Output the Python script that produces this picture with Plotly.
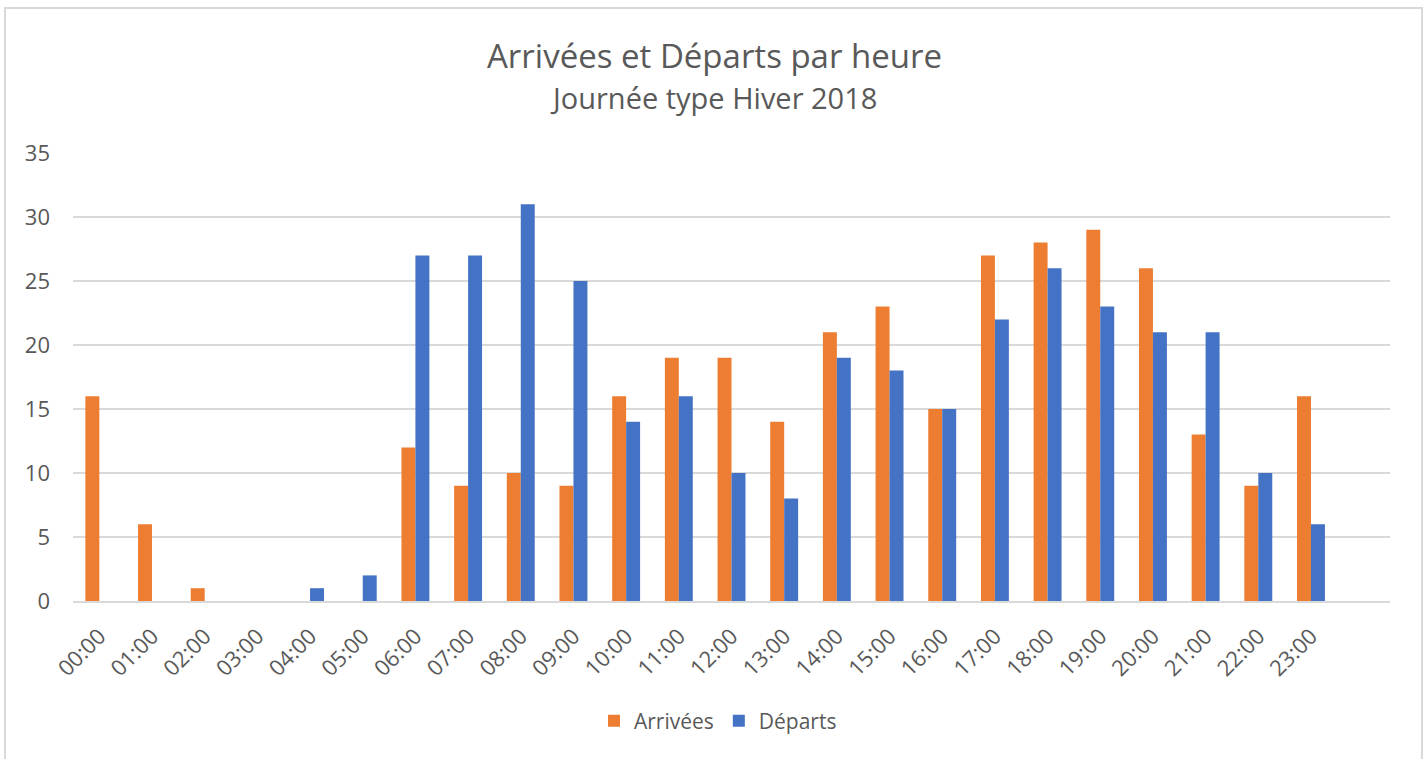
import plotly.graph_objects as go

hours = ["00:00", "01:00", "02:00", "03:00", "04:00", "05:00", "06:00", "07:00",
         "08:00", "09:00", "10:00", "11:00", "12:00", "13:00", "14:00", "15:00",
         "16:00", "17:00", "18:00", "19:00", "20:00", "21:00", "22:00", "23:00"]
arrivees = [16, 6, 1, 0, 0, 0, 12, 9, 10, 9, 16, 19, 19, 14, 21, 23, 15, 27, 28, 29, 26, 13, 9, 16]
departs = [0, 0, 0, 0, 1, 2, 27, 27, 31, 25, 14, 16, 10, 8, 19, 18, 15, 22, 26, 23, 21, 21, 10, 6]
y_ticks = [0, 5, 10, 15, 20, 25, 30, 35]

W, H = 1427, 759
L, R, T, B = 73, 1390, 153, 601
pw, ph = R - L, B - T

def px(x):
    return (x - L) / pw

def py(y):
    return (B - y) / ph

font = "Open Sans, Noto Sans, sans-serif"
grey = "#595959"

fig = go.Figure()
fig.add_trace(go.Bar(x=hours, y=arrivees, name="Arrivées",
                     marker=dict(color="#ED7D31", line=dict(width=0))))
fig.add_trace(go.Bar(x=hours, y=departs, name="Départs",
                     marker=dict(color="#4472C4", line=dict(width=0))))

fig.update_layout(
    width=W, height=H,
    margin=dict(l=L, r=W - R, t=T, b=H - B, pad=0),
    paper_bgcolor="white", plot_bgcolor="white",
    barmode="group", bargap=0.47, bargroupgap=0,
    font=dict(family=font, color=grey, size=22),
    showlegend=True,
    legend=dict(orientation="h", x=px(718), xanchor="center", y=py(721), yanchor="middle",
                font=dict(size=21, color=grey), traceorder="normal"),
    xaxis=dict(type="category", range=[-0.5, 24.5], tickangle=-45,
               showgrid=False, showline=True, linecolor="#D9D9D9", linewidth=1.5,
               ticks="", tickfont=dict(size=22, color=grey), ticklabelstandoff=12,
               fixedrange=True),
    yaxis=dict(range=[0, 35], tickvals=y_ticks, showgrid=True, gridcolor="#D9D9D9",
               gridwidth=1.5, zeroline=False, showline=False, ticks="",
               tickfont=dict(size=22, color=grey), ticklabelstandoff=22),
    annotations=[
        dict(text="Arrivées et Départs par heure", x=px(714), y=py(56), xref="paper", yref="paper",
             showarrow=False, xanchor="center", yanchor="middle",
             font=dict(size=33, color=grey, family=font)),
        dict(text="Journée type Hiver 2018", x=px(713), y=py(98), xref="paper", yref="paper",
             showarrow=False, xanchor="center", yanchor="middle",
             font=dict(size=29, color=grey, family=font)),
    ],
    shapes=[
        dict(type="rect", xref="paper", yref="paper",
             x0=px(5), x1=px(1422), y0=py(765), y1=py(8),
             line=dict(color="#D9D9D9", width=2), fillcolor="rgba(0,0,0,0)", layer="below"),
    ],
)

fig.write_html("out.html", config={"displayModeBar": False},
               post_script="document.body.style.margin='0';document.body.style.overflow='hidden';")
